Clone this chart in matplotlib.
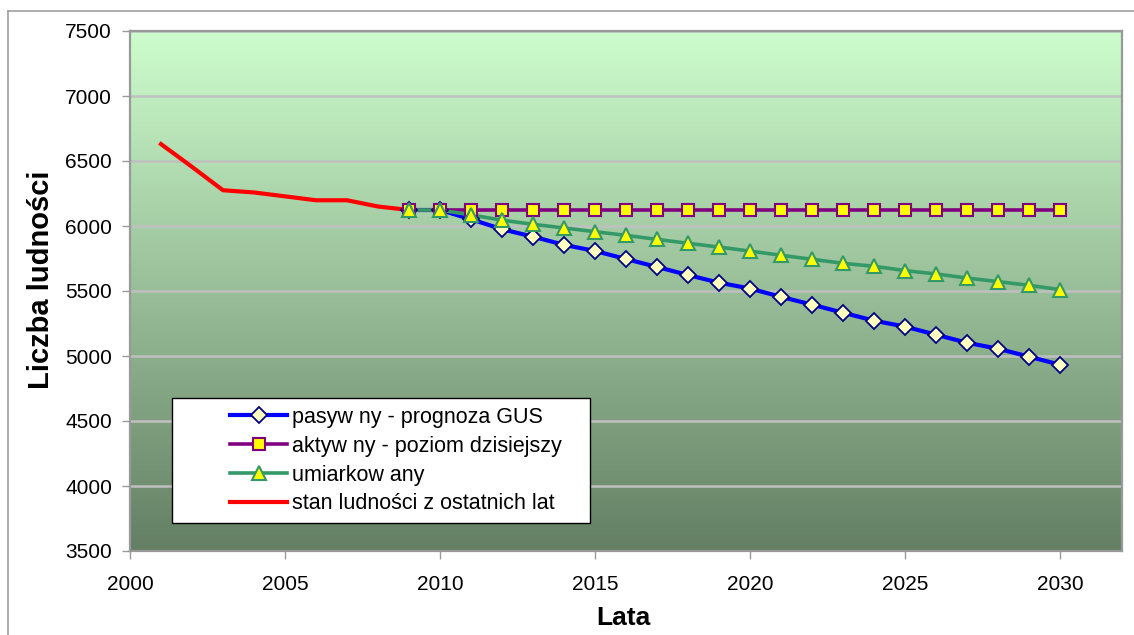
import numpy as np
import matplotlib
matplotlib.use("Agg")
import matplotlib.pyplot as plt
from matplotlib.lines import Line2D
from matplotlib.patches import Rectangle
from matplotlib.colors import LinearSegmentedColormap

plt.rcParams['font.family'] = ['Liberation Sans', 'DejaVu Sans']

# Historical population
years_hist = [2001, 2002, 2003, 2004, 2005, 2006, 2007, 2008, 2009]
pop_hist = [6630, 6455, 6275, 6258, 6228, 6198, 6198, 6150, 6123]

# Projection years
years_proj = list(range(2009, 2031))

# Passive scenario (GUS forecast)
pop_passive = [6123, 6123, 6052, 5975, 5918, 5855, 5808, 5746, 5685, 5623, 5564,
               5519, 5455, 5395, 5333, 5272, 5226, 5164, 5102, 5056, 4995, 4933]
# Active scenario (current level)
pop_active = [6123] * 22
# Moderate scenario
pop_moderate = [6123, 6123, 6085, 6045, 6013, 5985, 5956, 5928, 5897, 5867, 5838,
                5807, 5775, 5744, 5713, 5690, 5657, 5631, 5600, 5572, 5544, 5510]

labels = ["pasyw ny - prognoza GUS", "aktyw ny - poziom dzisiejszy",
          "umiarkow any", "stan ludności z ostatnich lat"]

W, H = 1134, 635
fig = plt.figure(figsize=(W / 100, H / 100), dpi=100)
fig.patch.set_facecolor('white')

ax = fig.add_axes([130 / W, (H - 551) / H, 992 / W, 520 / H])

# Vertical gradient background of the plot area
cmap = LinearSegmentedColormap.from_list('bg', ['#647f64', '#cdfdcd'])
grad = np.linspace(0, 1, 256).reshape(-1, 1)
ax.imshow(grad, cmap=cmap, extent=[0, 1, 0, 1], transform=ax.transAxes,
          origin='lower', aspect='auto', zorder=0, interpolation='bilinear')

ax.set_xlim(2000, 2032)
ax.set_ylim(3500, 7500)
ax.set_xticks(np.arange(2000, 2031, 5))
ax.set_yticks(np.arange(3500, 7501, 500))
ax.yaxis.grid(True, color='#c0c0c0', linewidth=1.8, zorder=1)
ax.set_axisbelow(False)

c_blue, c_purple, c_green, c_red = '#0000ff', '#800080', '#339966', '#ff0000'

# Lines first, markers on top
ax.plot(years_proj, pop_passive, color=c_blue, lw=3.0, zorder=3, solid_joinstyle='round')
ax.plot(years_proj, pop_active, color=c_purple, lw=2.6, zorder=3)
ax.plot(years_proj, pop_moderate, color=c_green, lw=2.6, zorder=3)
ax.plot(years_hist, pop_hist, color=c_red, lw=3.0, zorder=3, solid_joinstyle='round')

mk_passive = dict(marker='D', ms=7.8, mfc='#ffffc0', mec='#000080', mew=1.3)
mk_active = dict(marker='s', ms=9, mfc='#ffff00', mec=c_purple, mew=1.5)
mk_moderate = dict(marker='^', ms=10.5, mfc='#ffff00', mec=c_green, mew=1.5)
ax.plot(years_proj, pop_passive, ls='none', zorder=4, **mk_passive)
ax.plot(years_proj, pop_active, ls='none', zorder=5, **mk_active)
ax.plot(years_proj, pop_moderate, ls='none', zorder=6, **mk_moderate)

for s in ax.spines.values():
    s.set_color('#999999')
    s.set_linewidth(1.6)
    s.set_zorder(7)

ax.tick_params(axis='both', colors='#999999', labelcolor='black', labelsize=15,
               direction='out', length=6, width=1)
ax.tick_params(axis='x', pad=11)
ax.tick_params(axis='y', pad=7)

ax.set_xlabel('Lata', fontsize=19, fontweight='bold')
ax.set_ylabel('Liczba ludności', fontsize=21, fontweight='bold')
ax.xaxis.set_label_coords(0.497, -0.105)
ax.yaxis.set_label_coords(-0.076, 0.521)

# Legend box
box_x0, box_y0 = (172 - 130) / 992, (551 - 523) / 520
box_w, box_h = 418 / 992, 125 / 520
ax.add_patch(Rectangle((box_x0, box_y0), box_w, box_h, transform=ax.transAxes,
                       facecolor='white', edgecolor='black', lw=1.0, zorder=8))
handles = [
    Line2D([], [], color=c_blue, lw=3.0, **mk_passive),
    Line2D([], [], color=c_purple, lw=2.6, **mk_active),
    Line2D([], [], color=c_green, lw=2.6, **mk_moderate),
    Line2D([], [], color=c_red, lw=3.0),
]
leg = ax.legend(handles, labels, loc='upper left',
                bbox_to_anchor=((230 - 130) / 992, (551 - 407) / 520),
                frameon=False, fontsize=15.5, handlelength=2.65, handletextpad=0.22,
                labelspacing=0.36, borderaxespad=0, borderpad=0)
leg.set_zorder(9)

# Outer chart frame
fig.add_artist(Line2D([8 / W, 8 / W], [0, 1 - 11 / H], transform=fig.transFigure,
                      color='#a0a0a0', lw=1.2))
fig.add_artist(Line2D([8 / W, 1], [1 - 11 / H, 1 - 11 / H], transform=fig.transFigure,
                      color='#a0a0a0', lw=1.2))

fig.savefig('out.png', dpi=100)
